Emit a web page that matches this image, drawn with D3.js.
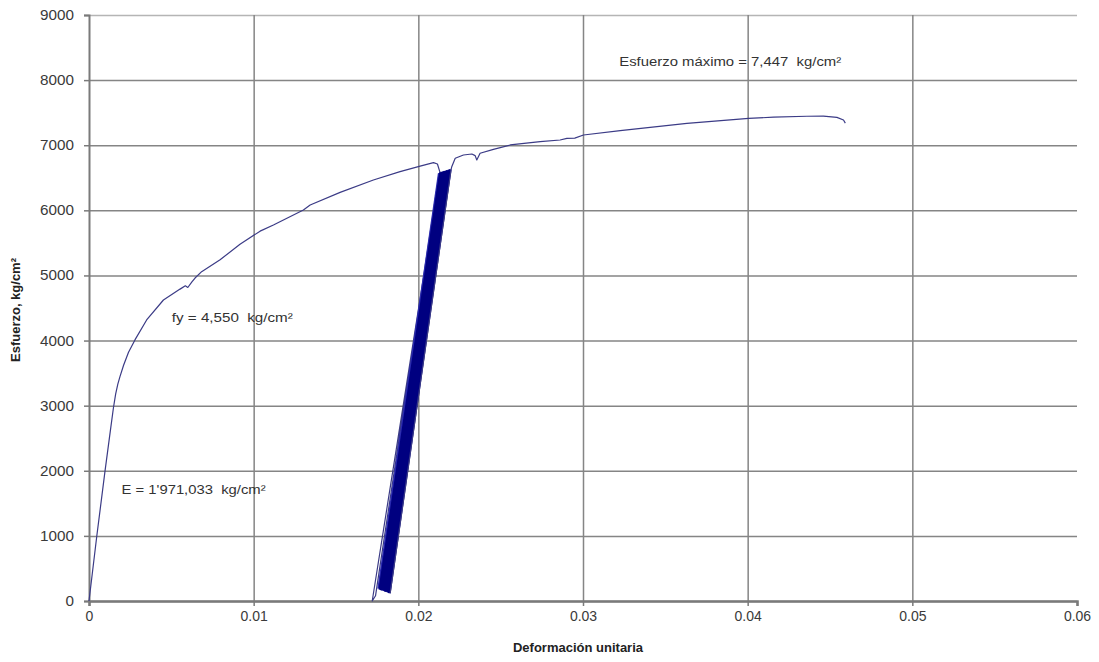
<!DOCTYPE html>
<html>
<head>
<meta charset="utf-8">
<script src="https://cdn.jsdelivr.net/npm/d3@7"></script>
<style>
  html, body { margin: 0; padding: 0; background: #fff; }
  svg { display: block; font-family: "Liberation Sans", Arial, sans-serif; }
</style>
</head>
<body>
<svg id="chart" width="1099" height="662"></svg>
<script>
// Stress–strain record of a steel bar test (strain, stress in kg/cm²)

// Monotonic loading up to the first unloading, then the unloading branch
const loadingStrain = [0, 0.00047, 0.00097, 0.00130, 0.00148, 0.00162, 0.00175, 0.00188, 0.00210, 0.00240,
  0.00279, 0.00350, 0.00452, 0.00553, 0.00585, 0.00600, 0.00625, 0.00644, 0.00684, 0.00796,
  0.00917, 0.01039, 0.01120, 0.01302, 0.01343, 0.01525, 0.01727, 0.01889, 0.02011, 0.02092,
  0.02116, 0.02132, 0.01720, 0.01740, 0.02126];
const loadingStress = [0, 990, 1990, 2620, 2960, 3180, 3330, 3445, 3620, 3820,
  4010, 4316, 4623, 4790, 4840, 4815, 4900, 4960, 5058, 5240,
  5480, 5680, 5775, 6005, 6082, 6275, 6466, 6594, 6680, 6732,
  6712, 6580, 0, 80, 6560];

// Repeated unload / reload cycles
const cycleLowStrain  = [0.01760, 0.01767, 0.01774, 0.01781, 0.01788, 0.01795, 0.01802, 0.01809, 0.01816, 0.01823];
const cycleLowStress  = [190, 175, 165, 160, 170, 150, 140, 160, 130, 120];
const cycleHighStrain = [0.02128, 0.02135, 0.02143, 0.02150, 0.02157, 0.02164, 0.02171, 0.02178, 0.02186, 0.02193];
const cycleHighStress = [6570, 6580, 6590, 6595, 6600, 6605, 6610, 6615, 6620, 6630];

// Final reload to rupture
const finalStrain = [0.01829, 0.02199, 0.02203, 0.02224, 0.02274, 0.02325, 0.02345, 0.02355, 0.02375, 0.02456,
  0.02558, 0.02740, 0.02861, 0.02902, 0.02950, 0.03003, 0.03226, 0.03631, 0.04006, 0.04157,
  0.04360, 0.04460, 0.04542, 0.04582, 0.04593];
const finalStress = [120, 6630, 6670, 6799, 6850, 6865, 6840, 6773, 6876, 6937,
  7004, 7054, 7080, 7106, 7110, 7157, 7223, 7337, 7413, 7430,
  7445, 7447, 7428, 7387, 7340];

const xTicks = [0, 0.01, 0.02, 0.03, 0.04, 0.05, 0.06];
const xTickLabels = ["0", "0.01", "0.02", "0.03", "0.04", "0.05", "0.06"];
const yTicks = [0, 1000, 2000, 3000, 4000, 5000, 6000, 7000, 8000, 9000];

const xTitle = "Deformación unitaria";
const yTitle = "Esfuerzo, kg/cm²";
const noteTexts = ["Esfuerzo máximo = 7,447  kg/cm²", "fy = 4,550  kg/cm²", "E = 1'971,033  kg/cm²"];
const noteStrain = [0.03220, 0.00503, 0.00198];
const noteStress = [8220, 4280, 1650];

const svg = d3.select("#chart");
const x = d3.scaleLinear().domain([0, 0.06]).range([89, 1077]);
const y = d3.scaleLinear().domain([0, 9000]).range([601, 15]);

const gridColor = "#858585";

// Horizontal gridlines
svg.append("g")
  .attr("transform", `translate(${x(0)},0)`)
  .call(d3.axisLeft(y).tickValues(yTicks).tickSize(-(x(0.06) - x(0))).tickFormat(""))
  .call(g => g.select(".domain").remove())
  .call(g => g.selectAll("line").attr("stroke", d => d === 9000 ? "#b5b5b5" : gridColor).attr("stroke-width", 1.5));

// Vertical gridlines
svg.append("g")
  .attr("transform", `translate(0,${y(0)})`)
  .call(d3.axisBottom(x).tickValues(xTicks.slice(1, 6)).tickSize(-(y(0) - y(9000))).tickFormat(""))
  .call(g => g.select(".domain").remove())
  .call(g => g.selectAll("line").attr("stroke", gridColor).attr("stroke-width", 1.5));

// Y axis
svg.append("g")
  .attr("transform", `translate(${x(0)},0)`)
  .call(d3.axisLeft(y).tickValues(yTicks).tickSize(5).tickPadding(10).tickFormat(d3.format("d")))
  .call(g => g.select(".domain").attr("stroke", "#7a7a7a").attr("stroke-width", 2))
  .call(g => g.selectAll("line").attr("stroke", "#7a7a7a").attr("stroke-width", 1.5))
  .call(g => g.selectAll("text").attr("font-size", 14).attr("fill", "#3a3a3a")
    .attr("font-family", "Liberation Sans, Arial, sans-serif")
    .attr("textLength", d => String(d).length * 8.5).attr("lengthAdjust", "spacingAndGlyphs"));

// X axis
svg.append("g")
  .attr("transform", `translate(0,${y(0)})`)
  .call(d3.axisBottom(x).tickValues(xTicks).tickSize(5).tickPadding(5).tickFormat((d, i) => xTickLabels[i]))
  .call(g => g.select(".domain").attr("stroke", "#7a7a7a").attr("stroke-width", 2.5))
  .call(g => g.selectAll("line").attr("stroke", "#7a7a7a").attr("stroke-width", 1.5))
  .call(g => g.selectAll("text").attr("font-size", 14).attr("fill", "#3a3a3a")
    .attr("font-family", "Liberation Sans, Arial, sans-serif"));

// Axis titles
svg.append("text")
  .attr("x", (x(0) + x(0.06)) / 2 - 5).attr("y", 652)
  .attr("text-anchor", "middle").attr("font-size", 13).attr("font-weight", "bold").attr("fill", "#222")
  .text(xTitle);
svg.append("text")
  .attr("transform", "translate(20,310) rotate(-90)")
  .attr("text-anchor", "middle").attr("font-size", 13).attr("font-weight", "bold").attr("fill", "#222")
  .text(yTitle);

const line = d3.line().x(d => x(d[0])).y(d => y(d[1]));
const curveColor = "#3b3b86";

// Loading branch and first unload
svg.append("path")
  .datum(loadingStrain.map((s, i) => [s, loadingStress[i]]))
  .attr("d", line).attr("fill", "none")
  .attr("stroke", curveColor).attr("stroke-width", 1.2).attr("stroke-linejoin", "round");

// Cycles (dense band)
const cycles = cycleLowStrain.map((s, i) => [[s, cycleLowStress[i]], [cycleHighStrain[i], cycleHighStress[i]]]);
svg.append("g").selectAll("path")
  .data(cycles).join("path")
  .attr("d", line).attr("fill", "none")
  .attr("stroke", (d, i) => i === 0 ? "#2a2ab0" : "#000080")
  .attr("stroke-width", 3);

// Final reload to rupture
svg.append("path")
  .datum(finalStrain.map((s, i) => [s, finalStress[i]]))
  .attr("d", line).attr("fill", "none")
  .attr("stroke", curveColor).attr("stroke-width", 1.2).attr("stroke-linejoin", "round");

// Annotations (text widths follow the stretched lettering of the original figure)
const noteWidths = [222, 121, 144];
svg.append("g").selectAll("text")
  .data(noteTexts).join("text")
  .attr("x", (d, i) => x(noteStrain[i])).attr("y", (d, i) => y(noteStress[i]))
  .attr("font-size", 12.5).attr("fill", "#333")
  .style("white-space", "pre")
  .attr("textLength", (d, i) => noteWidths[i]).attr("lengthAdjust", "spacingAndGlyphs")
  .text(d => d);
</script>
</body>
</html>
